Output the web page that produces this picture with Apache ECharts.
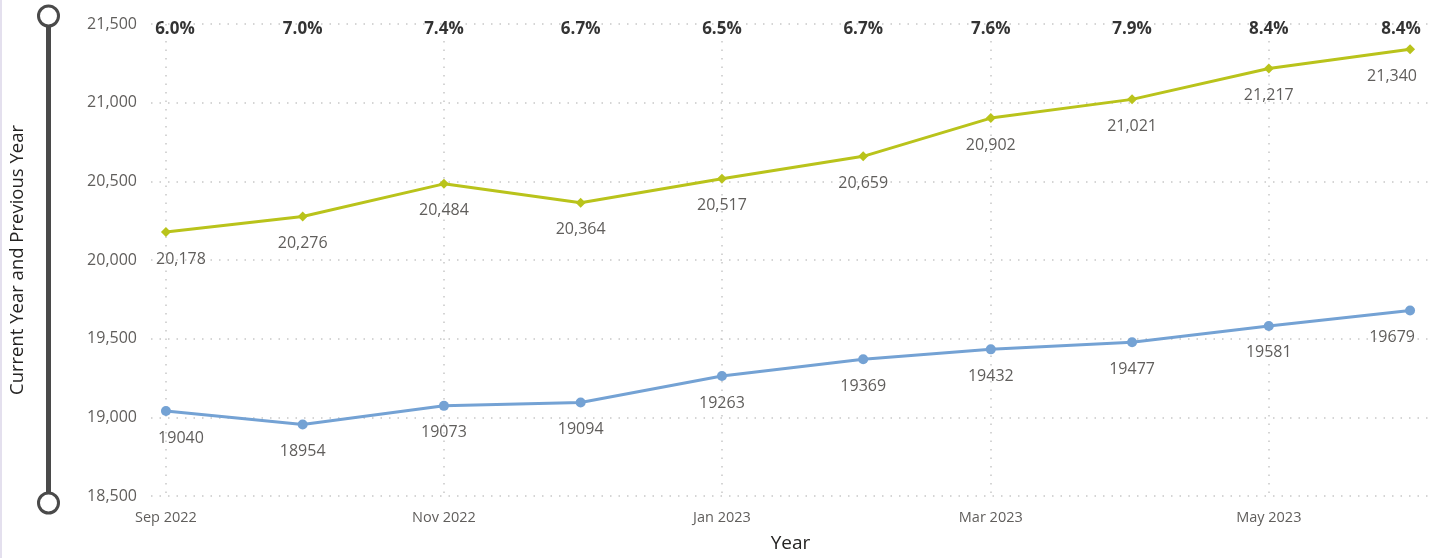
<!DOCTYPE html>
<html>
<head>
<meta charset="utf-8">
<script src="https://cdn.jsdelivr.net/npm/echarts@6/dist/echarts.min.js"></script>
<style>
html,body{margin:0;padding:0;background:#fff;}
#chart{width:1441px;height:558px;}
</style>
</head>
<body>
<div id="chart"></div>
<script>
// ---- data ----
const months = ['2022-09','2022-10','2022-11','2022-12','2023-01','2023-02','2023-03','2023-04','2023-05','2023-06'];
const currentYear = [20178, 20276, 20484, 20364, 20517, 20659, 20902, 21021, 21217, 21340];
const previousYear = [19040, 18954, 19073, 19094, 19263, 19369, 19432, 19477, 19581, 19679];
const growthPct = ['6.0%','7.0%','7.4%','6.7%','6.5%','6.7%','7.6%','7.9%','8.4%','8.4%'];
const xTickMonths = ['2022-09','2022-11','2023-01','2023-03','2023-05'];
const yTicks = [18500, 19000, 19500, 20000, 20500, 21000, 21500];
const monthNames = ['Jan','Feb','Mar','Apr','May','Jun','Jul','Aug','Sep','Oct','Nov','Dec'];

// day index since 1970 (UTC) -> used as numeric x value
function toDay(s){ const p = s.split('-'); return Date.UTC(+p[0], +p[1]-1, 1) / 86400000; }
const xs = months.map(toDay);
const xTicks = xTickMonths.map(toDay);

const FONT = 'Open Sans';
const LBL = '#605E5C';
const gridLeft = 147, gridRight = 11;
const padL = 15, padR = 20;
const plotW = 1441 - gridLeft - gridRight;
const span = xs[xs.length-1] - xs[0];
const perPx = span / (plotW - padL - padR);
const xMin = xs[0] - padL * perPx;
const xMax = xs[xs.length-1] + padR * perPx;

const fmt = v => v.toLocaleString('en-US');
const last = months.length - 1;

// keep edge labels inside the plot, as the original does
function edgeOffset(i, first, lastOff, dy) {
  if (i === 0) return { offset: [first, dy] };
  if (i === last) return { offset: [lastOff, dy] };
  return null;
}
function pts(vals) {
  return xs.map((x, i) => {
    const o = { value: [x, vals[i]] };
    const e = edgeOffset(i, 15, -18, 0);
    if (e) o.label = e;
    return o;
  });
}

const chart = echarts.init(document.getElementById('chart'), null, {renderer:'canvas'});
chart.setOption({
  animation: false,
  backgroundColor: '#fff',
  grid: { left: gridLeft, right: gridRight, top: 24, bottom: 59, containLabel: false },
  xAxis: {
    type: 'value', min: xMin, max: xMax,
    name: 'Year', nameLocation: 'middle', nameGap: 38,
    nameTextStyle: { color: '#252423', fontSize: 19, fontFamily: FONT },
    axisLine: { show: false },
    axisTick: { show: false, customValues: xTicks },
    axisLabel: {
      customValues: xTicks, color: LBL, fontSize: 14.5, fontFamily: FONT, margin: 14,
      formatter: v => { const d = new Date(v * 86400000); return monthNames[d.getUTCMonth()] + ' ' + d.getUTCFullYear(); }
    },
    splitLine: { show: true, lineStyle: { color: '#c8c8c8', width: 1.5, type: [1.5, 7] } }
  },
  yAxis: {
    type: 'value', min: yTicks[0], max: yTicks[yTicks.length-1], interval: 500,
    name: 'Current Year and Previous Year', nameLocation: 'middle', nameGap: 124, nameRotate: 90,
    nameTextStyle: { color: '#252423', fontSize: 18.5, fontFamily: FONT },
    axisLine: { show: false }, axisTick: { show: false },
    axisLabel: { color: LBL, fontSize: 16, fontFamily: FONT, margin: 14, formatter: v => fmt(v) },
    splitLine: { show: true, lineStyle: { color: '#c8c8c8', width: 1.5, type: [1.5, 7] } }
  },
  graphic: [
    { type: 'rect', shape: { x: 0, y: 0, width: 2, height: 558 }, style: { fill: '#e4e0ee' } },
    { type: 'rect', shape: { x: 46, y: 16, width: 5, height: 488 }, style: { fill: '#4a4a4a' } },
    { type: 'circle', shape: { cx: 48.5, cy: 16, r: 10 }, style: { fill: '#fff', stroke: '#4a4a4a', lineWidth: 3 } },
    { type: 'circle', shape: { cx: 48.5, cy: 503, r: 10 }, style: { fill: '#fff', stroke: '#4a4a4a', lineWidth: 3 } }
  ],
  series: [
    {
      name: 'Current Year', type: 'line',
      data: pts(currentYear),
      symbol: 'diamond', symbolSize: 10, showAllSymbol: true,
      lineStyle: { color: '#B9C31B', width: 3 },
      itemStyle: { color: '#B9C31B' },
      label: { show: true, position: 'bottom', distance: 14, color: LBL, fontSize: 16, fontFamily: FONT,
        formatter: p => fmt(p.value[1]) }
    },
    {
      name: 'Previous Year', type: 'line',
      data: pts(previousYear),
      symbol: 'circle', symbolSize: 10, showAllSymbol: true,
      lineStyle: { color: '#74A2D4', width: 3 },
      itemStyle: { color: '#74A2D4' },
      label: { show: true, position: 'bottom', distance: 14, color: LBL, fontSize: 16, fontFamily: FONT,
        formatter: p => String(p.value[1]) }
    },
    {
      name: 'Growth', type: 'scatter', symbolSize: 0,
      data: xs.map((x, i) => {
        const o = { value: [x, yTicks[yTicks.length-1]], name: growthPct[i] };
        const e = edgeOffset(i, 9, -9, 5);
        if (e) o.label = e;
        return o;
      }),
      label: { show: true, position: 'inside', offset: [0, 5], color: '#000', fontWeight: 'bold', fontSize: 17, fontFamily: FONT,
        formatter: p => p.name }
    }
  ]
});
</script>
</body>
</html>
